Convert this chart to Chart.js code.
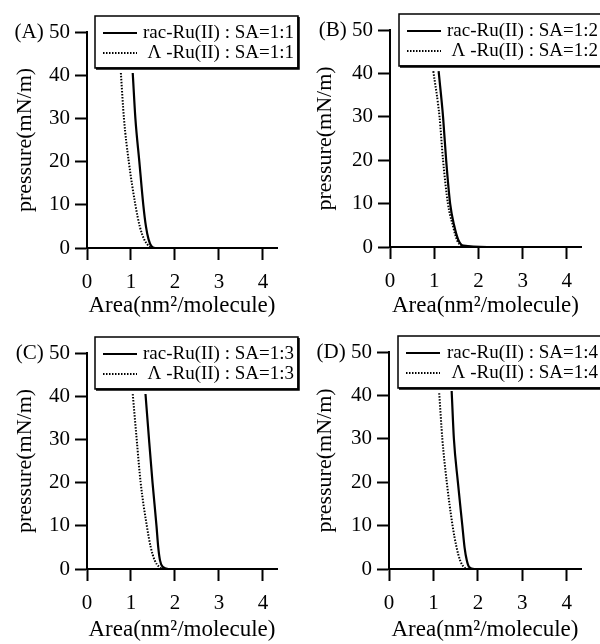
<!DOCTYPE html>
<html>
<head>
<meta charset="utf-8">
<script src="https://cdn.jsdelivr.net/npm/chart.js@4/dist/chart.umd.min.js"></script>
<style>
  html, body { margin: 0; padding: 0; background: #fff; }
  #wrap { position: relative; width: 600px; height: 644px; overflow: hidden; }
  canvas { position: absolute; }
</style>
</head>
<body>
<div id="wrap">
  <canvas id="cA" width="300" height="322" style="left:0;top:0"></canvas>
  <canvas id="cB" width="300" height="322" style="left:300px;top:0"></canvas>
  <canvas id="cC" width="300" height="322" style="left:0;top:322px"></canvas>
  <canvas id="cD" width="300" height="322" style="left:300px;top:322px"></canvas>
</div>
<script>
// ---- data ----
const panelLabels = ['(A)', '(B)', '(C)', '(D)'];
const saRatios = ['1:1', '1:2', '1:3', '1:4'];
const yTicks = [0, 10, 20, 30, 40, 50];
const xTicks = [0, 1, 2, 3, 4];

const racA_area     = [1.04, 1.10, 1.19, 1.28, 1.34, 1.40, 1.46, 1.55, 4.32];
const racA_pressure = [40.5, 30,   20,   10,   5,    2,    0.5,  0,    0];
const lamA_area     = [0.77, 0.84, 0.95, 1.10, 1.20, 1.30, 1.40, 1.50, 4.32];
const lamA_pressure = [40.5, 30,   20,   10,   5,    2,    0.5,  0,    0];

const racB_area     = [1.10, 1.20, 1.27, 1.36, 1.45, 1.55, 1.66, 2.20, 4.32];
const racB_pressure = [40.5, 30,   20,   10,   5,    1.5,  0.3,  0,    0];
const lamB_area     = [0.98, 1.12, 1.20, 1.31, 1.42, 1.52, 1.62, 2.00, 4.32];
const lamB_pressure = [40.5, 30,   20,   10,   5,    1.5,  0.3,  0,    0];

const racC_area     = [1.33, 1.41, 1.49, 1.58, 1.62, 1.66, 1.72, 1.85, 4.32];
const racC_pressure = [40.5, 30,   20,   10,   5,    2,    0.5,  0,    0];
const lamC_area     = [1.04, 1.13, 1.22, 1.36, 1.45, 1.54, 1.64, 1.78, 4.32];
const lamC_pressure = [40.5, 30,   20,   10,   5,    2,    0.5,  0,    0];

const racD_area     = [1.41, 1.46, 1.55, 1.65, 1.70, 1.75, 1.80, 1.92, 4.32];
const racD_pressure = [41,   30,   20,   10,   5,    2,    0.5,  0,    0];
const lamD_area     = [1.13, 1.20, 1.30, 1.43, 1.52, 1.60, 1.68, 1.80, 4.32];
const lamD_pressure = [40.5, 30,   20,   10,   5,    2,    0.5,  0,    0];

const seriesByPanel = [
  [racA_area, racA_pressure, lamA_area, lamA_pressure],
  [racB_area, racB_pressure, lamB_area, lamB_pressure],
  [racC_area, racC_pressure, lamC_area, lamC_pressure],
  [racD_area, racD_pressure, lamD_area, lamD_pressure]
];

// ---- layout per panel ----
const layouts = [
  { id: 'cA', yw: 87, top: 32, right: 23, xh: 74, tb: 2 },
  { id: 'cB', yw: 90, top: 30, right: 19, xh: 75, tb: 2 },
  { id: 'cC', yw: 87, top: 31, right: 23, xh: 75, tb: 0 },
  { id: 'cD', yw: 89, top: 30, right: 19, xh: 75, tb: 0 }
];

const SERIF = "'Liberation Serif', 'Times New Roman', 'DejaVu Serif', serif";

function pts(xs, ys) { return xs.map((x, i) => ({ x: x, y: ys[i] })); }

const boxLegend = {
  id: 'boxLegend',
  afterDraw(chart, args, opts) {
    const ctx = chart.ctx, ca = chart.chartArea;
    const x0 = ca.left + opts.dx, y0 = ca.top - 16;
    const x1 = ca.right + 21, y1 = y0 + 52;
    ctx.save();
    ctx.fillStyle = '#fff';
    ctx.fillRect(x0, y0, x1 - x0, y1 - y0);
    ctx.strokeStyle = '#000';
    ctx.lineWidth = 1.5;
    ctx.strokeRect(x0, y0, x1 - x0, y1 - y0);
    ctx.lineWidth = 2.5;
    ctx.beginPath();
    ctx.moveTo(x1 + 0.5, y0 + 1); ctx.lineTo(x1 + 0.5, y1 + 0.5); ctx.lineTo(x0 + 1, y1 + 0.5);
    ctx.stroke();
    ctx.font = '19px ' + SERIF;
    ctx.textAlign = 'right';
    ctx.textBaseline = 'middle';
    ctx.fillStyle = '#000';
    chart.data.datasets.forEach((ds, i) => {
      const yy = y0 + 17 + i * 20;
      ctx.beginPath();
      ctx.setLineDash(ds.borderDash || []);
      ctx.lineWidth = ds.borderWidth;
      ctx.moveTo(x0 + 8, yy); ctx.lineTo(x0 + 42, yy);
      ctx.stroke();
      ctx.setLineDash([]);
      ctx.fillText(ds.label, x1 - 4, yy);
    });
    ctx.restore();
  }
};

layouts.forEach((L, p) => {
  const s = seriesByPanel[p];
  new Chart(document.getElementById(L.id), {
    type: 'line',
    data: {
      datasets: [
        { label: 'rac-Ru(II) : SA=' + saRatios[p], data: pts(s[0], s[1]),
          borderColor: '#000', borderWidth: 2.2, pointRadius: 0, fill: false,
          cubicInterpolationMode: 'monotone' },
        { label: 'Λ -Ru(II) : SA=' + saRatios[p], data: pts(s[2], s[3]),
          borderColor: '#000', borderWidth: 2, borderDash: [1.5, 1.5], pointRadius: 0, fill: false,
          cubicInterpolationMode: 'monotone' }
      ]
    },
    options: {
      responsive: false,
      animation: false,
      devicePixelRatio: 1,
      layout: { padding: { left: 0, top: L.top, right: L.right, bottom: 0 } },
      plugins: {
        legend: { display: false },
        tooltip: { enabled: false },
        boxLegend: { dx: p % 2 === 0 ? 8 : 9 }
      },
      scales: {
        x: {
          type: 'linear', min: 0, max: 4.32,
          afterFit: (sc) => { sc.height = L.xh; },
          afterBuildTicks: (sc) => { sc.ticks = xTicks.map(v => ({ value: v })); },
          ticks: { color: '#000', font: { family: SERIF, size: 21 }, padding: 10, maxRotation: 0,
                   includeBounds: false, callback: (v) => String(v) },
          grid: { drawOnChartArea: false, drawTicks: true, tickLength: 12, tickColor: '#000', tickWidth: 2 },
          border: { display: true, color: '#000', width: 2 },
          title: { display: true, text: 'Area(nm²/molecule)', color: '#000',
                   font: { family: SERIF, size: 23 }, padding: { top: 0, bottom: L.tb } }
        },
        y: {
          type: 'linear', min: 0, max: 50,
          afterFit: (sc) => { sc.width = L.yw; },
          afterBuildTicks: (sc) => { sc.ticks = yTicks.map(v => ({ value: v })); },
          ticks: { color: '#000', font: { family: SERIF, size: 21 }, padding: 5,
                   callback: (v) => v === 50 ? panelLabels[p] + ' 50' : String(v) },
          grid: { drawOnChartArea: false, drawTicks: true, tickLength: 12, tickColor: '#000', tickWidth: 2 },
          border: { display: true, color: '#000', width: 2 },
          title: { display: true, text: 'pressure(mN/m)', color: '#000',
                   font: { family: SERIF, size: 22 }, padding: { top: 12, bottom: 0 } }
        }
      }
    },
    plugins: [boxLegend]
  });
});
</script>
</body>
</html>
